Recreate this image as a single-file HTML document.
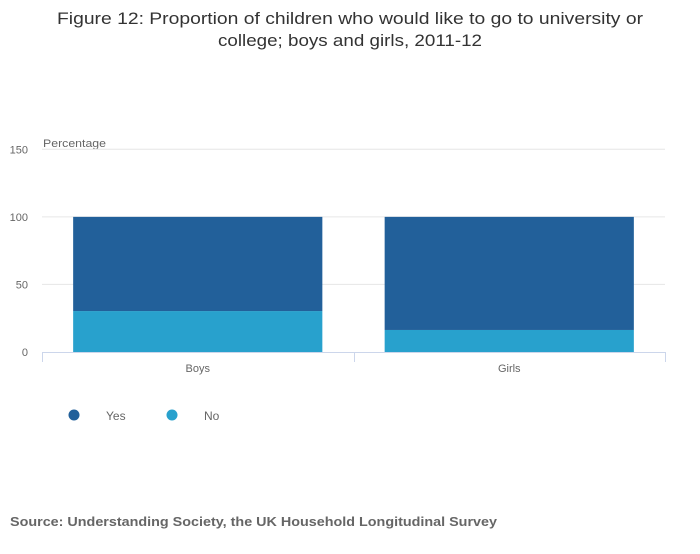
<!DOCTYPE html>
<html><head><meta charset="utf-8"><style>
body{margin:0;background:#fff;width:700px;height:549px;overflow:hidden;font-family:"Liberation Sans",sans-serif}
</style></head><body>
<svg width="700" height="549" xmlns="http://www.w3.org/2000/svg">
<text x="57" y="24" textLength="586" lengthAdjust="spacingAndGlyphs" font-size="17" fill="#333">Figure 12: Proportion of children who would like to go to university or</text>
<text x="218" y="46" textLength="264" lengthAdjust="spacingAndGlyphs" font-size="17" fill="#333">college; boys and girls, 2011-12</text>
<text x="43" y="147" textLength="63" lengthAdjust="spacingAndGlyphs" font-size="11" fill="#666">Percentage</text>
<g id="grid"></g>
<g id="bars"></g>
<g id="axis"></g>
<g>
<g><circle cx="74" cy="415" r="5.5" fill="#22609a"/><text x="106" y="420" font-size="12" fill="#666">Yes</text></g>
<g><circle cx="172" cy="415" r="5.5" fill="#28a1cd"/><text x="204" y="420" font-size="12" fill="#666">No</text></g>
</g>
<text x="10" y="526" textLength="487" lengthAdjust="spacingAndGlyphs" font-size="13" font-weight="bold" fill="#666">Source: Understanding Society, the UK Household Longitudinal Survey</text>
</svg>
<script>
const categories=["Boys","Girls"];
const noValues=[30.3,16.3];
const yesValues=[69.7,83.7];
const yTicks=[0,50,100,150];
const ns="http://www.w3.org/2000/svg";
const x0=42,x1=665,yBase=352,yTop=149.3,yMax=150;
const y=v=>yBase-(v/yMax)*(yBase-yTop);
const band=(x1-x0)/categories.length;
function mk(t,a,p){const e=document.createElementNS(ns,t);for(const k in a)e.setAttribute(k,a[k]);p.appendChild(e);return e;}
const grid=document.getElementById('grid'),bars=document.getElementById('bars'),axis=document.getElementById('axis');
yTicks.forEach(t=>{
  if(t>0){const l=mk('line',{x1:x0,x2:x1,y1:y(t),y2:y(t),stroke:'#e6e6e6','stroke-width':1},grid);
  
  }
  const tx=mk('text',{x:28,y:y(t)+4,'text-anchor':'end','font-size':11,fill:'#666'},grid);
  tx.textContent=t;
  
  
});
categories.forEach((c,i)=>{
  const bx=x0+band*i+band*0.1,bw=band*0.8;
  const rn=mk('rect',{x:bx,y:y(noValues[i]),width:bw,height:yBase-y(noValues[i]),fill:'#28a1cd'},bars);
  
  
  const tot=noValues[i]+yesValues[i];
  const ry=mk('rect',{x:bx,y:y(tot),width:bw,height:y(noValues[i])-y(tot),fill:'#22609a'},bars);
  
  
  const lt=mk('text',{x:x0+band*(i+0.5),y:372,'text-anchor':'middle','font-size':11,fill:'#666'},axis);
  lt.textContent=c;
  
  
});
mk('line',{x1:x0,x2:x1,y1:yBase+0.5,y2:yBase+0.5,stroke:'#ccd6eb'},axis);
for(let i=0;i<=categories.length;i++){const xx=Math.round(x0+band*i)+0.5;mk('line',{x1:xx,x2:xx,y1:yBase,y2:yBase+10,stroke:'#ccd6eb'},axis);}
</script>
</body></html>
